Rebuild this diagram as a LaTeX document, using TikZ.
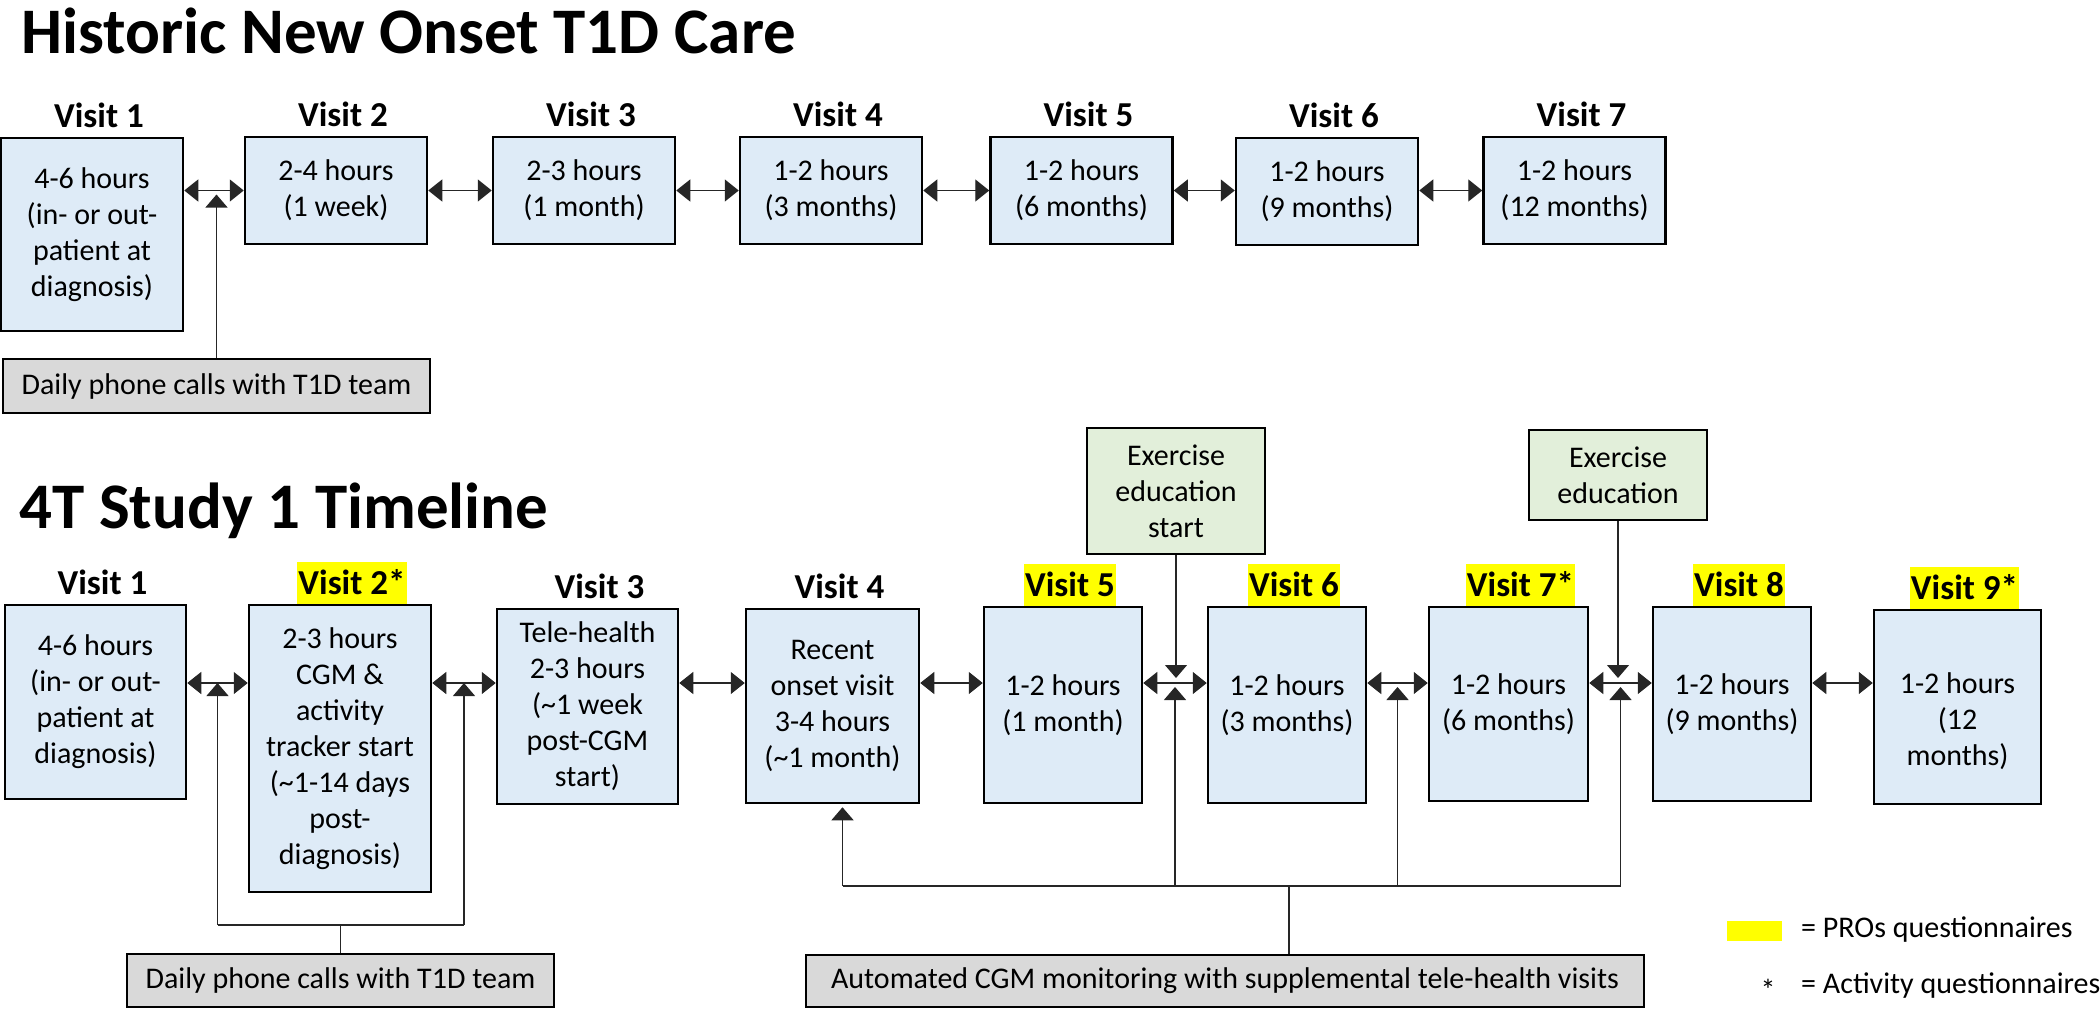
\documentclass[tikz,border=0pt]{standalone}
\usepackage{fontspec}
\setmainfont{Carlito}
\usetikzlibrary{arrows.meta,calc}
\definecolor{visitblue}{HTML}{DEEBF7}
\definecolor{exgreen}{HTML}{E2EFDA}
\definecolor{callgray}{HTML}{D9D9D9}
\definecolor{proyellow}{HTML}{FFFF00}
\tikzset{
  visit/.style={draw,line width=2.5pt,fill=visitblue,align=center,inner sep=0pt,font=\fontsize{30}{36}\selectfont},
  vlabel/.style={anchor=south,inner xsep=1pt,inner ysep=0pt,text height=33pt,text depth=9pt,xshift=7pt,font=\fontsize{35}{42}\selectfont\bfseries},
  pro/.style={vlabel,fill=proyellow},
  callbox/.style={draw,line width=2pt,fill=callgray,inner sep=0pt,font=\fontsize{30}{36}\selectfont},
  exbox/.style={draw,line width=2pt,fill=exgreen,align=center,inner sep=0pt,font=\fontsize{30}{36}\selectfont},
  keytext/.style={anchor=west,inner sep=0pt,font=\fontsize{30}{36}\selectfont},
  headline/.style={anchor=base west,inner sep=0pt,font=\fontsize{65}{78}\selectfont\bfseries},
  link/.style={line width=1.3pt,black!85},
  twoway/.style={link,{Triangle[length=14pt,width=22pt]}-{Triangle[length=14pt,width=22pt]}},
  oneway/.style={link,-{Triangle[length=13pt,width=22pt]}},
}
\begin{document}
\begin{tikzpicture}[x=1pt,y=-1pt]
\useasboundingbox (0,0) rectangle (2100,1009);
\node[headline] (title1) at (21,53) {Historic New Onset T1D Care};
\node[headline] (title2) at (19,528) {4T Study 1 Timeline};
%
% historic care
\node[visit,minimum width=182pt,minimum height=193pt] (h1) at (92,234.5) {4-6 hours\\(in- or out-\\patient at\\diagnosis)};
\node[visit,minimum width=182pt,minimum height=107pt] (h2) at (336,190.5) {2-4 hours\\(1 week)};
\node[visit,minimum width=182pt,minimum height=107pt] (h3) at (584,190.5) {2-3 hours\\(1 month)};
\node[visit,minimum width=182pt,minimum height=107pt] (h4) at (831,190.5) {1-2 hours\\(3 months)};
\node[visit,minimum width=182pt,minimum height=107pt] (h5) at (1081.5,190.5) {1-2 hours\\(6 months)};
\node[visit,minimum width=182pt,minimum height=107pt] (h6) at (1327,191.5) {1-2 hours\\(9 months)};
\node[visit,minimum width=182pt,minimum height=107pt] (h7) at (1574.5,190.5) {1-2 hours\\(12 months)};
\node[vlabel] (h1l) at (h1.north) {Visit 1};
\node[vlabel] (h2l) at (h2.north) {Visit 2};
\node[vlabel] (h3l) at (h3.north) {Visit 3};
\node[vlabel] (h4l) at (h4.north) {Visit 4};
\node[vlabel] (h5l) at (h5.north) {Visit 5};
\node[vlabel] (h6l) at (h6.north) {Visit 6};
\node[vlabel] (h7l) at (h7.north) {Visit 7};
\node[callbox,minimum width=427pt,minimum height=54pt] (call1) at (216.5,386) {Daily phone calls with T1D team};
%
\draw[twoway] (h1.east |- h2.west) -- (h2.west);
\draw[twoway] (h2.east) -- (h3.west);
\draw[twoway] (h3.east) -- (h4.west);
\draw[twoway] (h4.east) -- (h5.west);
\draw[twoway] (h5.east) -- (h6.west |- h5.east);
\draw[twoway] (h6.east |- h7.west) -- (h7.west);
\draw[oneway,shorten >=4pt] (call1.north) -- (call1.north |- h2.west);
%
% 4T study
\node[visit,minimum width=181pt,minimum height=194pt] (s1) at (95.5,702) {4-6 hours\\(in- or out-\\patient at\\diagnosis)};
\node[visit,minimum width=182pt,minimum height=287pt] (s2) at (340,748.5) {2-3 hours\\CGM \&\\activity\\tracker start\\(\textasciitilde1-14 days\\post-\\diagnosis)};
\node[visit,minimum width=181pt,minimum height=195pt] (s3) at (587.5,706.5) {Tele-health\\2-3 hours\\(\textasciitilde1 week\\post-CGM\\start)};
\node[visit,minimum width=173pt,minimum height=194pt] (s4) at (832.5,706) {Recent\\onset visit\\3-4 hours\\(\textasciitilde1 month)};
\node[visit,minimum width=158pt,minimum height=196pt] (s5) at (1063,705) {1-2 hours\\(1 month)};
\node[visit,minimum width=158pt,minimum height=196pt] (s6) at (1287,705) {1-2 hours\\(3 months)};
\node[visit,minimum width=159pt,minimum height=194pt] (s7) at (1508.5,704) {1-2 hours\\(6 months)};
\node[visit,minimum width=158pt,minimum height=194pt] (s8) at (1732,704) {1-2 hours\\(9 months)};
\node[visit,minimum width=167pt,minimum height=194pt] (s9) at (1957.5,707) {\mbox{}\\[14pt]1-2 hours\\(12\\months)};
\node[vlabel] (s1l) at (s1.north) {Visit 1};
\node[pro,xshift=5pt] (s2l) at (s2.north) {Visit 2*};
\node[vlabel,xshift=5pt] (s3l) at (s3.north) {Visit 3};
\node[vlabel] (s4l) at (s4.north) {Visit 4};
\node[pro] (s5l) at (s5.north) {Visit 5};
\node[pro] (s6l) at (s6.north) {Visit 6};
\node[pro,xshift=5pt] (s7l) at (s7.north) {Visit 7*};
\node[pro] (s8l) at (s8.north) {Visit 8};
\node[pro] (s9l) at (s9.north) {Visit 9*};
\node[exbox,minimum width=178pt,minimum height=126pt] (ex1) at (1176,491) {Exercise\\education\\start};
\node[exbox,minimum width=178pt,minimum height=90pt] (ex2) at (1618,475) {Exercise\\education};
\node[callbox,minimum width=427pt,minimum height=53pt] (call2) at (340.5,980.5) {Daily phone calls with T1D team};
\node[callbox,minimum width=838pt,minimum height=52pt] (auto) at (1225,981) {Automated CGM monitoring with supplemental tele-health visits};
%
\coordinate (row) at (0,683);
\coordinate (callbus) at (0,925);
\coordinate (cgmbus) at (0,886);
\coordinate (gap12) at ($(s1.east)!0.5!(s2.west)$);
\coordinate (gap23) at ($(s2.east)!0.5!(s3.west)$);
\coordinate (gap56) at ($(s5.east)!0.5!(s6.west)$);
\coordinate (gap67) at ($(s6.east)!0.5!(s7.west)$);
\coordinate (gap78) at ($(s7.east)!0.5!(s8.west)$);
\coordinate (v4foot) at ([xshift=10pt]s4.south);
\coordinate (autostem) at ([xshift=64pt]auto.north);
%
\draw[twoway] (s1.east |- row) -- (s2.west |- row);
\draw[twoway] (s2.east |- row) -- (s3.west |- row);
\draw[twoway] (s3.east |- row) -- (s4.west |- row);
\draw[twoway] (s4.east |- row) -- (s5.west |- row);
\draw[twoway] (s5.east |- row) -- (s6.west |- row);
\draw[twoway] (s6.east |- row) -- (s7.west |- row);
\draw[twoway] (s7.east |- row) -- (s8.west |- row);
\draw[twoway] (s8.east |- row) -- (s9.west |- row);
%
\draw[link] (call2.north) -- (call2.north |- callbus);
\draw[link] (gap12 |- callbus) -- (gap23 |- callbus);
\draw[oneway] (gap12 |- callbus) -- (gap12 |- row);
\draw[oneway] (gap23 |- callbus) -- (gap23 |- row);
%
\draw[link] (autostem) -- (autostem |- cgmbus);
\draw[link] (v4foot |- cgmbus) -- (gap78 |- cgmbus);
\draw[oneway,shorten >=3pt] (v4foot |- cgmbus) -- (v4foot);
\draw[oneway,shorten >=4pt] (gap56 |- cgmbus) -- (gap56 |- row);
\draw[oneway,shorten >=4pt] (gap67 |- cgmbus) -- (gap67 |- row);
\draw[oneway,shorten >=4pt] (gap78 |- cgmbus) -- (gap78 |- row);
\draw[oneway,shorten >=5pt] (ex1.south) -- (ex1.south |- row);
\draw[oneway,shorten >=5pt] (ex2.south) -- (ex2.south |- row);
%
% key
\node[fill=proyellow,minimum width=55pt,minimum height=20pt,inner sep=0pt] (key1) at (1754.5,931) {};
\node[keytext] (key1txt) at (1801,930) {= PROs questionnaires};
\node[inner sep=0pt,font=\fontsize{30}{36}\selectfont] (key2) at (1768,990) {*};
\node[keytext] (key2txt) at (1801,986) {= Activity questionnaires};
\end{tikzpicture}
\end{document}
